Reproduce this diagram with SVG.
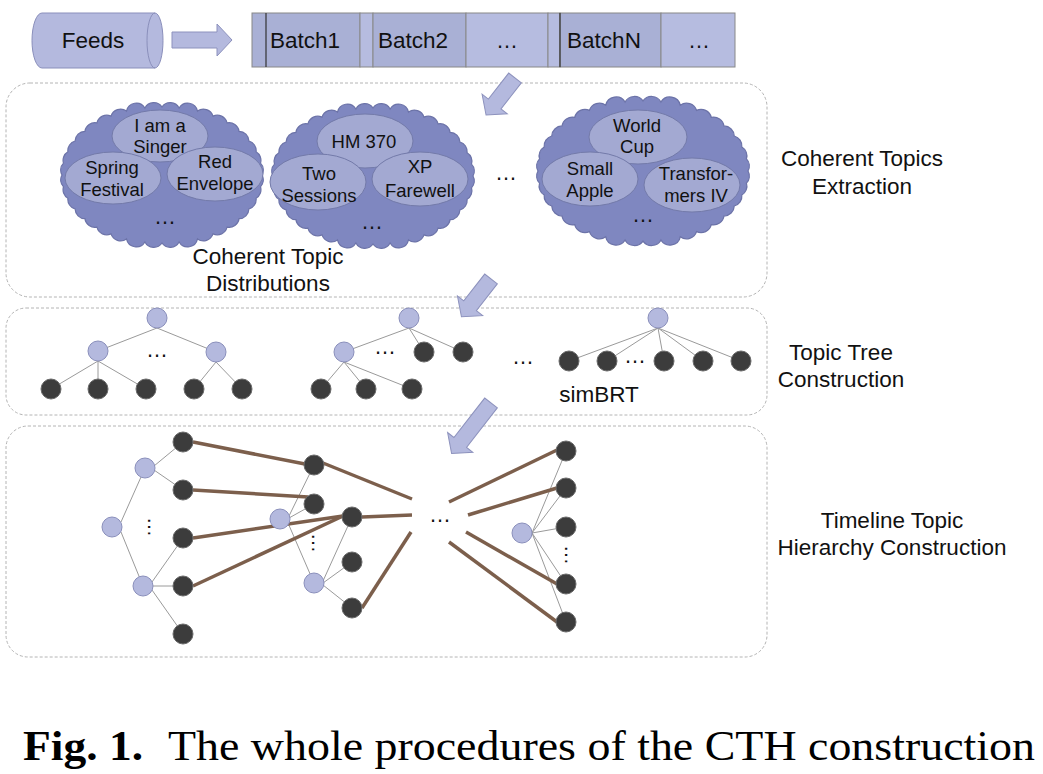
<svg xmlns="http://www.w3.org/2000/svg" width="1043" height="774" viewBox="0 0 1043 774">
<style>
text{font-family:"Liberation Sans",Arial,sans-serif;fill:#111;}
.lbl{font-size:22.5px;text-anchor:middle;}
.el{font-size:18.5px;text-anchor:middle;}
.dots{font-size:22px;text-anchor:middle;}
.vd{font-size:20px;text-anchor:middle;}
.box{fill:none;stroke:#b4b4b4;stroke-width:1;stroke-dasharray:3 2;}
.cloud{fill:#7f87c0;stroke:#6c73a8;stroke-width:1.2;}
.ell{fill:#a3a9d2;stroke:#737aa9;stroke-width:1;}
.ln{fill:#b4b9de;stroke:#8a8fbb;stroke-width:1;}
.dk{fill:#3c3c3c;stroke:#6a6a6a;stroke-width:1;}
.thin{stroke:#9a9a9a;stroke-width:1;fill:none;}
.brown{stroke:#7c5f4c;stroke-width:3.5;fill:none;}
.arrow{fill:#b4b9de;stroke:#8d92bd;stroke-width:1;}
.bd{fill:#a9b0d5;stroke:#888;stroke-width:1;}
.bl{fill:#b6bce0;stroke:#888;stroke-width:1;}
.cap{font-family:"Liberation Serif","Times New Roman",serif;font-size:42px;fill:#000;}
</style>
<defs>
<path id="cloud" d="M100,0 A10,10 0 0 1 98.5,11.8 A10,10 0 0 1 94.1,23.3 A10,10 0 0 1 86.9,34 A10,10 0 0 1 77.1,43.7 A10,10 0 0 1 65,52.1 A10,10 0 0 1 51,58.9 A10,10 0 0 1 35.5,63.9 A10,10 0 0 1 17.1,67 A10,10 0 0 1 0,68 A10,10 0 0 1 -17.1,67 A10,10 0 0 1 -35.5,63.9 A10,10 0 0 1 -51,58.9 A10,10 0 0 1 -65,52.1 A10,10 0 0 1 -77.1,43.7 A10,10 0 0 1 -86.9,34 A10,10 0 0 1 -94.1,23.3 A10,10 0 0 1 -98.5,11.8 A10,10 0 0 1 -100,0 A10,10 0 0 1 -98.5,-11.8 A10,10 0 0 1 -94.1,-23.3 A10,10 0 0 1 -86.9,-34 A10,10 0 0 1 -77.1,-43.7 A10,10 0 0 1 -65,-52.1 A10,10 0 0 1 -51,-58.9 A10,10 0 0 1 -35.5,-63.9 A10,10 0 0 1 -17.1,-67 A10,10 0 0 1 0,-68 A10,10 0 0 1 17.1,-67 A10,10 0 0 1 35.5,-63.9 A10,10 0 0 1 51,-58.9 A10,10 0 0 1 65,-52.1 A10,10 0 0 1 77.1,-43.7 A10,10 0 0 1 86.9,-34 A10,10 0 0 1 94.1,-23.3 A10,10 0 0 1 98.5,-11.8 A10,10 0 0 1 100,0 Z"/>
</defs>
<rect width="1043" height="774" fill="#fff"/>

<!-- stage boxes -->
<g id="stage-boxes">
<rect class="box" x="6" y="83" width="761" height="214" rx="24"/>
<rect class="box" x="6" y="308" width="761" height="107" rx="20"/>
<rect class="box" x="6" y="426" width="761" height="231" rx="22"/>
</g>

<!-- feeds -->
<g id="feeds">
<path d="M42,13 L155,13 A8,27.5 0 0 1 155,68 L42,68 A10,27.5 0 0 1 42,13 Z" fill="#b4b9de" stroke="#8a8fbb"/>
<path d="M155,13 A8,27.5 0 0 0 155,68" fill="none" stroke="#8a8fbb"/>
<text class="lbl" x="93" y="48">Feeds</text>
</g>

<!-- batches -->
<g id="batches">
<rect class="bd" x="252" y="13" width="108" height="54"/>
<rect class="bl" x="360" y="13" width="13" height="54"/>
<rect class="bd" x="373" y="13" width="93" height="54"/>
<rect class="bl" x="466" y="13" width="82" height="54"/>
<rect class="bl" x="548" y="13" width="12" height="54"/>
<rect class="bd" x="560" y="13" width="101" height="54"/>
<rect class="bl" x="661" y="13" width="74" height="54"/>
<line x1="266" y1="13" x2="266" y2="67" stroke="#333" stroke-width="1.2"/>
<line x1="560" y1="13" x2="560" y2="67" stroke="#333" stroke-width="1.2"/>
<text class="lbl" x="305" y="48">Batch1</text>
<text class="lbl" x="413" y="48">Batch2</text>
<text class="dots" x="507" y="48">…</text>
<text class="lbl" x="604" y="48">BatchN</text>
<text class="dots" x="699" y="48">…</text>
</g>

<!-- process arrows -->
<g id="process-arrows">
<polygon class="arrow" points="172,32 217,32 217,24 232,40 217,56 217,48 172,48"/>
<polygon class="arrow" transform="translate(515,78) rotate(128)" points="0,-8 33,-8 33,-16 47,0 33,16 33,8 0,8"/>
<polygon class="arrow" transform="translate(491,279) rotate(128)" points="0,-8 34,-8 34,-16 48,0 34,16 34,8 0,8"/>
<polygon class="arrow" transform="translate(491,403) rotate(128)" points="0,-8 50,-8 50,-16 64,0 50,16 50,8 0,8"/>
</g>

<!-- clouds -->
<g id="cloud-1">
<use href="#cloud" class="cloud" transform="translate(162,175)"/>
<ellipse class="ell" cx="160" cy="136" rx="48" ry="26"/>
<ellipse class="ell" cx="113" cy="178" rx="48" ry="26"/>
<ellipse class="ell" cx="215" cy="174" rx="48" ry="27"/>
<text class="el" x="160" y="132">I am a</text>
<text class="el" x="160" y="153">Singer</text>
<text class="el" x="112" y="174">Spring</text>
<text class="el" x="112" y="196">Festival</text>
<text class="el" x="215" y="168">Red</text>
<text class="el" x="215" y="190">Envelope</text>
<text class="dots" x="165" y="224">…</text>
</g>
<g id="cloud-2">
<use href="#cloud" class="cloud" transform="translate(373,176)"/>
<ellipse class="ell" cx="365" cy="141" rx="48" ry="27"/>
<ellipse class="ell" cx="318" cy="182" rx="48" ry="28"/>
<ellipse class="ell" cx="420" cy="179" rx="48" ry="27"/>
<text class="el" x="364" y="148">HM 370</text>
<text class="el" x="319" y="180">Two</text>
<text class="el" x="319" y="202">Sessions</text>
<text class="el" x="420" y="173">XP</text>
<text class="el" x="420" y="197">Farewell</text>
<text class="dots" x="372" y="229">…</text>
</g>
<text class="dots" x="506" y="180">…</text>
<g id="cloud-3">
<use href="#cloud" class="cloud" transform="translate(643,171) scale(1.05,1.03)"/>
<ellipse class="ell" cx="638" cy="137" rx="49" ry="27"/>
<ellipse class="ell" cx="590" cy="179" rx="48" ry="27"/>
<ellipse class="ell" cx="692" cy="185" rx="48" ry="27"/>
<text class="el" x="637" y="132">World</text>
<text class="el" x="637" y="153">Cup</text>
<text class="el" x="590" y="175">Small</text>
<text class="el" x="590" y="197">Apple</text>
<text class="el" x="696" y="180">Transfor-</text>
<text class="el" x="696" y="202">mers IV</text>
<text class="dots" x="643" y="222">…</text>
</g>
<g id="label-distributions">
<text class="lbl" x="268" y="264">Coherent Topic</text>
<text class="lbl" x="268" y="291">Distributions</text>
</g>

<!-- stage labels -->
<g id="label-extraction">
<text class="lbl" x="862" y="166">Coherent Topics</text>
<text class="lbl" x="862" y="194">Extraction</text>
</g>
<g id="label-tree">
<text class="lbl" x="841" y="360">Topic Tree</text>
<text class="lbl" x="841" y="387">Construction</text>
</g>
<g id="label-timeline">
<text class="lbl" x="892" y="528">Timeline Topic</text>
<text class="lbl" x="892" y="555">Hierarchy Construction</text>
</g>

<!-- connectors -->
<g id="connectors">
<g class="thin">
<line x1="157" y1="328" x2="98" y2="351"/>
<line x1="157" y1="328" x2="216" y2="352"/>
<line x1="98" y1="361" x2="51" y2="389"/>
<line x1="98" y1="361" x2="98" y2="389"/>
<line x1="98" y1="361" x2="146" y2="389"/>
<line x1="216" y1="362" x2="194" y2="389"/>
<line x1="216" y1="362" x2="242" y2="389"/>
<line x1="409" y1="328" x2="344" y2="352"/>
<line x1="409" y1="328" x2="424" y2="352"/>
<line x1="409" y1="328" x2="463" y2="352"/>
<line x1="344" y1="362" x2="321" y2="389"/>
<line x1="344" y1="362" x2="366" y2="389"/>
<line x1="344" y1="362" x2="412" y2="389"/>
<line x1="658" y1="328" x2="569" y2="361"/>
<line x1="658" y1="328" x2="607" y2="361"/>
<line x1="658" y1="328" x2="664" y2="361"/>
<line x1="658" y1="328" x2="703" y2="361"/>
<line x1="658" y1="328" x2="741" y2="361"/>
<line x1="121" y1="522" x2="145" y2="468"/>
<line x1="121" y1="532" x2="143" y2="586"/>
<line x1="154" y1="466" x2="183" y2="442"/>
<line x1="154" y1="470" x2="183" y2="490"/>
<line x1="152" y1="582" x2="183" y2="538"/>
<line x1="153" y1="586" x2="183" y2="586"/>
<line x1="152" y1="590" x2="183" y2="634"/>
<line x1="289" y1="516" x2="314" y2="465"/>
<line x1="289" y1="518" x2="314" y2="504"/>
<line x1="288" y1="523" x2="314" y2="583"/>
<line x1="323" y1="581" x2="352" y2="517"/>
<line x1="323" y1="583" x2="352" y2="562"/>
<line x1="323" y1="585" x2="352" y2="608"/>
<line x1="532" y1="533" x2="566" y2="451"/>
<line x1="532" y1="533" x2="566" y2="488"/>
<line x1="532" y1="533" x2="566" y2="527"/>
<line x1="532" y1="533" x2="566" y2="584"/>
<line x1="532" y1="533" x2="566" y2="622"/>
</g>
<g class="brown">
<line x1="193" y1="442" x2="305" y2="464"/>
<line x1="323" y1="463" x2="412" y2="499"/>
<line x1="193" y1="490" x2="308" y2="497"/>
<line x1="193" y1="538" x2="343" y2="516"/>
<line x1="193" y1="586" x2="343" y2="516"/>
<line x1="362" y1="517" x2="412" y2="515"/>
<line x1="362" y1="608" x2="411" y2="532"/>
<line x1="449" y1="502" x2="557" y2="450"/>
<line x1="468" y1="515" x2="557" y2="488"/>
<line x1="466" y1="532" x2="557" y2="584"/>
<line x1="449" y1="542" x2="557" y2="622"/>
</g>
</g>

<!-- topic trees -->
<g id="tree-1">
<circle class="ln" cx="157" cy="318" r="10"/>
<circle class="ln" cx="98" cy="351" r="10"/>
<circle class="ln" cx="216" cy="352" r="10"/>
<circle class="dk" cx="51" cy="389" r="10"/>
<circle class="dk" cx="98" cy="389" r="10"/>
<circle class="dk" cx="146" cy="389" r="10"/>
<circle class="dk" cx="194" cy="389" r="10"/>
<circle class="dk" cx="242" cy="389" r="10"/>
<text class="dots" x="157" y="357">…</text>
</g>
<g id="tree-2">
<circle class="ln" cx="409" cy="318" r="10"/>
<circle class="ln" cx="344" cy="352" r="10"/>
<circle class="dk" cx="424" cy="352" r="10"/>
<circle class="dk" cx="463" cy="352" r="10"/>
<circle class="dk" cx="321" cy="389" r="10"/>
<circle class="dk" cx="366" cy="389" r="10"/>
<circle class="dk" cx="412" cy="389" r="10"/>
<text class="dots" x="385" y="354">…</text>
</g>
<text class="dots" x="523" y="364">…</text>
<g id="tree-3">
<circle class="ln" cx="658" cy="318" r="10"/>
<circle class="dk" cx="569" cy="361" r="10"/>
<circle class="dk" cx="607" cy="361" r="10"/>
<circle class="dk" cx="664" cy="361" r="10"/>
<circle class="dk" cx="703" cy="361" r="10"/>
<circle class="dk" cx="741" cy="361" r="10"/>
<text class="dots" x="635" y="363">…</text>
<text class="lbl" x="599" y="402">simBRT</text>
</g>

<!-- timeline hierarchy -->
<g id="timeline-a">
<circle class="ln" cx="112" cy="527" r="10"/>
<circle class="ln" cx="145" cy="468" r="10"/>
<circle class="ln" cx="143" cy="586" r="10"/>
<circle class="dk" cx="183" cy="442" r="10"/>
<circle class="dk" cx="183" cy="490" r="10"/>
<circle class="dk" cx="183" cy="538" r="10"/>
<circle class="dk" cx="183" cy="586" r="10"/>
<circle class="dk" cx="183" cy="634" r="10"/>
<text class="vd" transform="translate(147.5,527) rotate(90)">…</text>
</g>
<g id="timeline-b">
<circle class="ln" cx="280" cy="519" r="10"/>
<circle class="dk" cx="314" cy="465" r="10"/>
<circle class="dk" cx="314" cy="504" r="10"/>
<circle class="ln" cx="314" cy="583" r="10"/>
<circle class="dk" cx="352" cy="517" r="10"/>
<circle class="dk" cx="352" cy="562" r="10"/>
<circle class="dk" cx="352" cy="608" r="10"/>
<text class="vd" transform="translate(311.5,543) rotate(90)">…</text>
</g>
<text class="dots" x="440" y="522">…</text>
<g id="timeline-c">
<circle class="ln" cx="522" cy="533" r="10"/>
<circle class="dk" cx="566" cy="451" r="10"/>
<circle class="dk" cx="566" cy="488" r="10"/>
<circle class="dk" cx="566" cy="527" r="10"/>
<circle class="dk" cx="566" cy="584" r="10"/>
<circle class="dk" cx="566" cy="622" r="10"/>
<text class="vd" transform="translate(564.5,555) rotate(90)">…</text>
</g>

<!-- caption -->
<g id="caption">
<text class="cap" x="23" y="760" font-weight="bold" textLength="120" lengthAdjust="spacingAndGlyphs">Fig. 1.</text>
<text class="cap" x="168" y="760" textLength="867" lengthAdjust="spacingAndGlyphs">The whole procedures of the CTH construction</text>
</g>
</svg>
